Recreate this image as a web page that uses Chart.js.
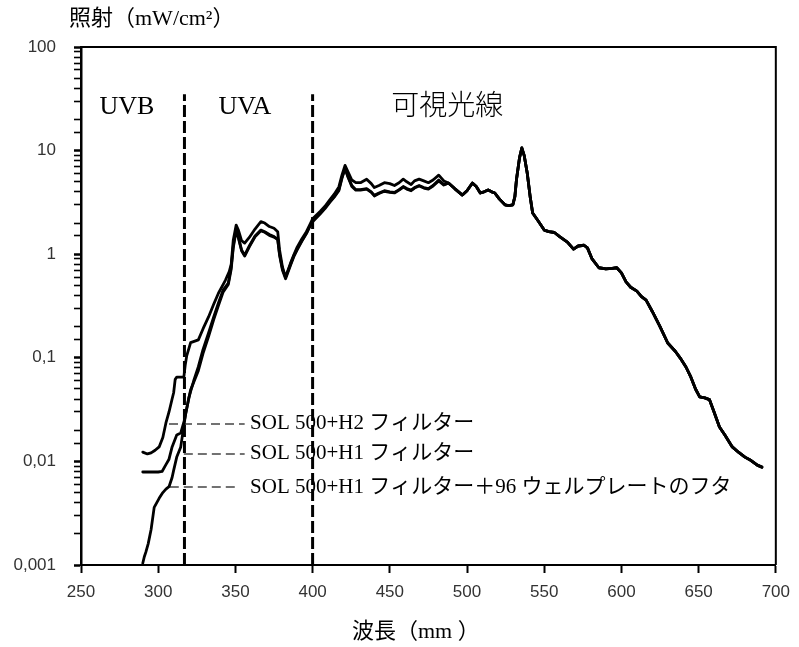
<!DOCTYPE html>
<html>
<head>
<meta charset="utf-8">
<script src="https://cdn.jsdelivr.net/npm/chart.js@4/dist/chart.umd.min.js"></script>
<style>
  html, body { margin: 0; padding: 0; background: #fff; }
  #c { display: block; }
</style>
</head>
<body>
<canvas id="c" width="799" height="647"></canvas>
<script>
// ---------------- DATA ----------------
const seriesNames = ['SOL 500+H2 フィルター', 'SOL 500+H1 フィルター', 'SOL 500+H1 フィルター＋96 ウェルプレートのフタ'];

// SOL 500 + H2 (upper curve, UV + visible part up to 485 nm)
const wlH2 = [290, 293, 295.4, 298, 300.6, 303, 305, 307, 309, 310, 311, 312, 316.6, 317.5, 318.5, 321, 326, 329, 332.6, 336, 339, 343.5, 346, 347.3, 348.6, 350.5, 352, 354, 356, 359, 362.7, 366.5, 369, 372, 375, 377.4, 378.6, 380.5, 382.5, 385.7, 388, 390, 393, 396, 398, 400, 405, 408, 411, 414, 417, 419, 421, 423, 425.4, 428, 431, 435, 438, 440, 443, 446.5, 450, 453, 456, 458.7, 461, 463.8, 466, 469, 472, 475, 478, 481.7, 485];
const valH2 = [0.0123, 0.0118, 0.0121, 0.0128, 0.0138, 0.017, 0.0235, 0.03, 0.04, 0.046, 0.062, 0.065, 0.065, 0.085, 0.105, 0.14, 0.149, 0.19, 0.248, 0.33, 0.42, 0.56, 0.68, 0.8, 1.36, 1.91, 1.7, 1.35, 1.28, 1.45, 1.75, 2.06, 2.0, 1.85, 1.78, 1.65, 1.1, 0.75, 0.6, 0.82, 1.0, 1.17, 1.4, 1.65, 1.9, 2.2, 2.6, 2.9, 3.33, 3.8, 4.46, 5.8, 7.2, 6.2, 5.2, 4.9, 4.9, 5.3, 4.8, 4.4, 4.6, 4.9, 4.8, 4.6, 4.9, 5.3, 5.0, 4.7, 5.1, 5.3, 5.1, 4.9, 5.2, 5.8, 5.1];

// SOL 500 + H1
const wlH1 = [290, 295, 300, 302.5, 305, 307, 309, 312, 314.6, 317, 319.8, 323, 326, 329, 332.6, 336, 339, 342, 345.4, 347.3, 348.6, 350.5, 352, 354, 356, 359, 362.7, 366.5, 369, 372, 375, 377.4, 378.6, 380.5, 382.5, 385.7, 388, 390, 393, 396, 398, 400, 405, 408, 411, 414, 417, 419, 421, 423, 425.4, 428, 431, 435, 438, 440, 443, 446.5, 450, 453, 456, 458.7, 461, 463.8, 466, 469, 472, 475, 478, 481.7, 485];
const valH1 = [0.0079, 0.0079, 0.0079, 0.008, 0.0093, 0.0105, 0.0138, 0.018, 0.0188, 0.025, 0.041, 0.06, 0.082, 0.12, 0.174, 0.25, 0.338, 0.45, 0.527, 0.76, 1.2, 1.75, 1.45, 1.1, 0.98, 1.2, 1.5, 1.71, 1.65, 1.55, 1.48, 1.4, 1.0, 0.72, 0.6, 0.8, 0.98, 1.12, 1.35, 1.6, 1.85, 2.1, 2.5, 2.8, 3.2, 3.6, 4.2, 5.5, 6.8, 5.6, 4.6, 4.2, 4.2, 4.3, 4.0, 3.7, 3.9, 4.1, 4.0, 3.95, 4.2, 4.5, 4.3, 4.15, 4.4, 4.6, 4.4, 4.3, 4.6, 5.2, 4.7];

// SOL 500 + H1 + 96-well plate lid
const wlLid = [290, 291, 292, 293.5, 295.4, 297.4, 300.6, 303, 305, 307, 309, 310, 312, 314.6, 317.8, 321, 326, 329, 332.6, 336, 339, 342, 345.4, 347.3, 348.6, 350.5, 352, 354, 356, 359, 362.7, 366.5, 369, 372, 375, 377.4, 378.6, 380.5, 382.5, 385.7, 388, 390, 393, 396, 398, 400, 405, 408, 411, 414, 417, 419, 421, 423, 425.4, 428, 431, 435, 438, 440, 443, 446.5, 450, 453, 456, 458.7, 461, 463.8, 466, 469, 472, 475, 478, 481.7, 485];
const valLid = [0.00104, 0.0012, 0.00133, 0.0016, 0.0022, 0.0036, 0.0044, 0.005, 0.0054, 0.0057, 0.007, 0.0082, 0.011, 0.0138, 0.029, 0.049, 0.075, 0.11, 0.16, 0.235, 0.32, 0.43, 0.51, 0.72, 1.15, 1.7, 1.42, 1.08, 0.96, 1.18, 1.47, 1.68, 1.63, 1.52, 1.46, 1.38, 0.98, 0.7, 0.58, 0.78, 0.96, 1.1, 1.33, 1.58, 1.82, 2.05, 2.45, 2.75, 3.15, 3.55, 4.1, 5.4, 6.7, 5.5, 4.5, 4.15, 4.15, 4.25, 3.95, 3.65, 3.85, 4.05, 3.95, 3.9, 4.15, 4.45, 4.25, 4.1, 4.35, 4.55, 4.35, 4.25, 4.55, 5.1, 4.65];

// Common visible tail (curves coincide) 488 - 691 nm
const wlTail = [488, 492, 497, 500, 503.5, 506, 508.6, 511, 513.7, 516, 518, 521, 524.6, 527, 529.7, 531, 532, 534, 535.5, 537, 539, 541, 542.5, 546, 550, 553, 556.6, 560, 565, 569, 572, 575.8, 578, 581, 585.4, 590, 594, 597, 600, 603, 606, 610, 613, 616, 620, 625, 630, 635, 638, 641.8, 645, 648, 650.7, 654, 657, 660, 663.5, 667, 671.8, 676, 680, 684, 688, 691];
const valTail = [4.86, 4.3, 3.72, 4.1, 4.86, 4.5, 3.9, 4.0, 4.17, 4.0, 3.9, 3.4, 3.0, 2.95, 3.0, 3.6, 5.2, 8.5, 10.6, 9.0, 6.08, 3.5, 2.5, 2.1, 1.71, 1.65, 1.62, 1.48, 1.31, 1.12, 1.2, 1.22, 1.15, 0.9, 0.74, 0.72, 0.73, 0.74, 0.66, 0.54, 0.48, 0.44, 0.39, 0.36, 0.28, 0.2, 0.139, 0.115, 0.1, 0.0815, 0.065, 0.05, 0.042, 0.041, 0.0395, 0.03, 0.0215, 0.018, 0.0138, 0.0122, 0.011, 0.0102, 0.0092, 0.0088];

// Band boundaries (nm) and band names
const bandBounds = [317, 400];
const bandNames = ['UVB', 'UVA', '可視光線'];

// x-axis tick values & y-axis decade labels
const xTicks = [250, 300, 350, 400, 450, 500, 550, 600, 650, 700];
const yDecades = [0.001, 0.01, 0.1, 1, 10, 100];
const yDecadeLabels = ['0,001', '0,01', '0,1', '1', '10', '100'];

const yTitle = '照射（mW/cm²）';
const xTitle = '波長（mm ）';

// ---------------- LAYOUT (positions in data units) ----------------
const bandLabelPos = [{x: 262, y: 26}, {x: 339, y: 26}, {x: 451, y: 26}];
const bandLineTop = 35;
const leaderLines = [
  {x0: 307, x1: 356, y: 0.023},
  {x0: 316.6, x1: 356, y: 0.0118},
  {x0: 307.5, x1: 352, y: 0.00566}
];
const leaderTextX = 359.5;

// ---------------- BUILD ----------------
function pts(wl, v) { return wl.map((x, i) => ({x: x, y: v[i]})); }
const tail = pts(wlTail, valTail);

const curveStyle = { borderColor: '#000', borderWidth: 2.8, pointRadius: 0, fill: false, tension: 0, borderJoinStyle: 'round', borderCapStyle: 'round' };

const datasets = [
  Object.assign({label: seriesNames[0], data: pts(wlH2, valH2)}, curveStyle),
  Object.assign({label: seriesNames[1], data: pts(wlH1, valH1)}, curveStyle),
  Object.assign({label: seriesNames[2], data: pts(wlLid, valLid)}, curveStyle)
];
// shared tail joined to each series (drawn thicker where the three coincide)
datasets.forEach(d => { d.data = d.data.concat(tail); });

bandBounds.forEach(b => {
  datasets.push({
    label: 'bound', data: [{x: b, y: yDecades[0]}, {x: b, y: bandLineTop}],
    borderColor: '#000', borderWidth: 3, borderDash: [12, 4], pointRadius: 0, fill: false
  });
});
leaderLines.forEach(l => {
  datasets.push({
    label: 'leader', data: [{x: l.x0, y: l.y}, {x: l.x1, y: l.y}],
    borderColor: '#444', borderWidth: 1.6, borderDash: [9, 5], pointRadius: 0, fill: false
  });
});

const serif = '"Liberation Serif", "Noto Sans CJK JP", serif';

const textPlugin = {
  id: 'texts',
  afterDatasetsDraw(chart) {
    const ctx = chart.ctx, xs = chart.scales.x, ys = chart.scales.y;
    const a = chart.chartArea;
    ctx.save();
    // frame top/right
    ctx.strokeStyle = '#000';
    ctx.lineWidth = 2;
    ctx.beginPath();
    ctx.moveTo(a.left, a.top); ctx.lineTo(a.right, a.top); ctx.lineTo(a.right, a.bottom);
    ctx.stroke();

    ctx.fillStyle = '#000';
    ctx.textBaseline = 'middle';
    ctx.textAlign = 'left';
    // band names
    bandNames.forEach((n, i) => {
      ctx.font = (i === 2 ? '300 28px ' : '26px ') + serif;
      ctx.fillText(n, xs.getPixelForValue(bandLabelPos[i].x), ys.getPixelForValue(bandLabelPos[i].y));
    });
    // leader labels
    ctx.font = '21px ' + serif;
    leaderLines.forEach((l, i) => {
      ctx.fillText(seriesNames[i], xs.getPixelForValue(leaderTextX), ys.getPixelForValue(l.y));
    });
    // axis titles
    ctx.font = '22px ' + serif;
    ctx.fillText(yTitle, 69, 19);
    ctx.textAlign = 'left';
    ctx.fillText(xTitle, 352, 632);
    ctx.restore();
  }
};

new Chart(document.getElementById('c'), {
  type: 'line',
  data: { datasets: datasets },
  plugins: [textPlugin],
  options: {
    responsive: false,
    animation: false,
    layout: { padding: { top: 47, right: 15, left: 0, bottom: 0 } },
    plugins: { legend: { display: false }, tooltip: { enabled: false } },
    scales: {
      x: {
        type: 'linear', min: 250, max: 700,
        afterBuildTicks(s) { s.ticks = xTicks.map(v => ({value: v})); },
        afterFit(s) { s.height = 82; },
        ticks: { color: '#333', font: { family: '"Liberation Sans", Arial, sans-serif', size: 17 }, padding: 9, maxRotation: 0 },
        grid: { drawOnChartArea: false, tickLength: 8, tickWidth: 2, tickColor: '#000' },
        border: { color: '#000', width: 2 }
      },
      y: {
        type: 'logarithmic', min: 0.001, max: 100,
        afterFit(s) { s.width = 81; },
        ticks: {
          autoSkip: false,
          color: '#333', font: { family: '"Liberation Sans", Arial, sans-serif', size: 17 }, padding: 18,
          callback(v) {
            const k = yDecades.findIndex(d => Math.abs(d - v) / d < 1e-6);
            return k >= 0 ? yDecadeLabels[k] : '';
          }
        },
        grid: { drawOnChartArea: false, tickLength: 7, tickColor: '#000',
          tickWidth: (c) => { const v = c.tick ? c.tick.value : 1; return yDecades.some(d => Math.abs(d - v) / d < 1e-6) ? 2.5 : 1.6; } },
        border: { color: '#000', width: 2.5 }
      }
    }
  }
});
</script>
</body>
</html>
